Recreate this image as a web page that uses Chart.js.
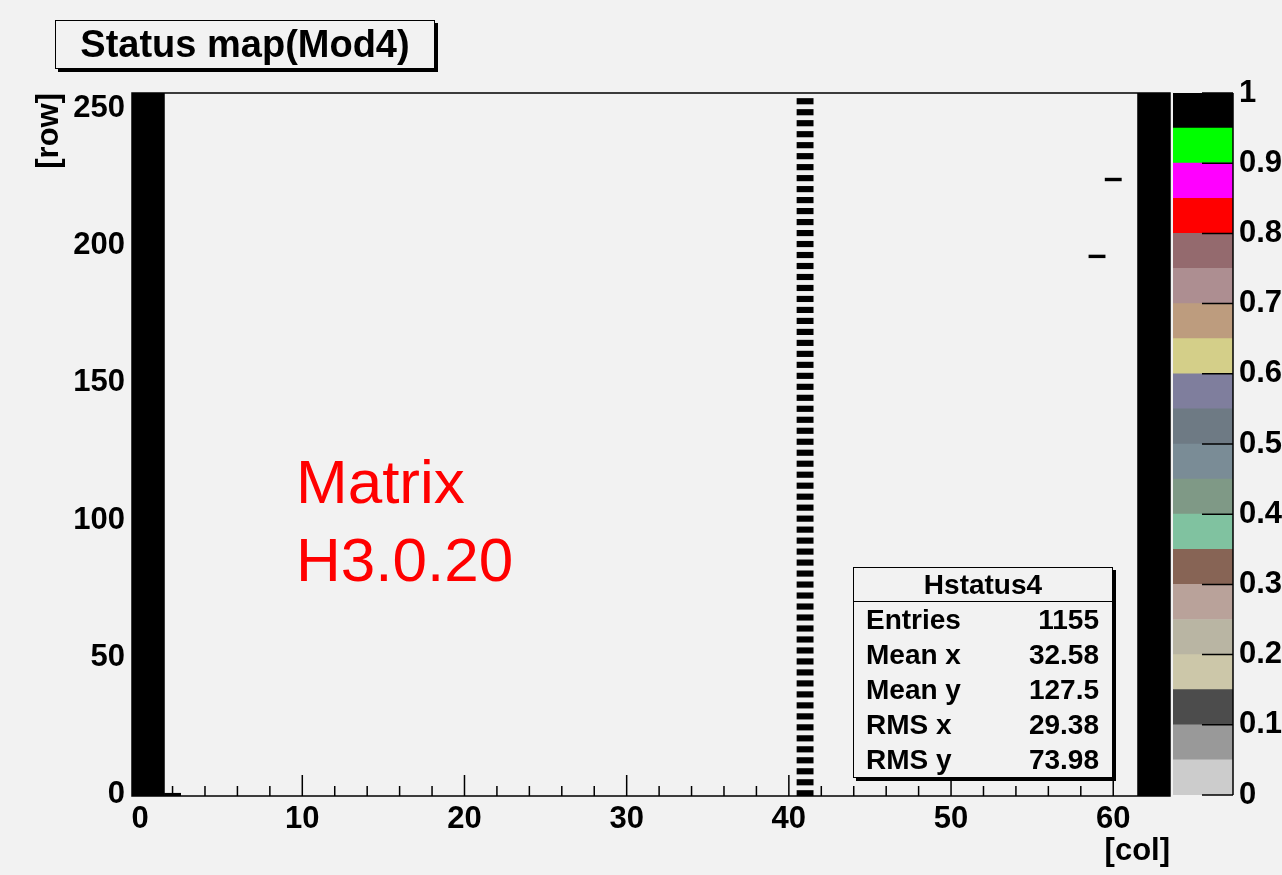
<!DOCTYPE html>
<html>
<head>
<meta charset="utf-8">
<title>Status map(Mod4)</title>
<script src="https://cdn.jsdelivr.net/npm/chart.js@4/dist/chart.umd.min.js"></script>
<style>
  html, body {
    margin: 0;
    padding: 0;
    background: #f2f2f2;
    width: 1282px;
    height: 875px;
    overflow: hidden;
    font-family: "Liberation Sans", Arial, sans-serif;
  }
  canvas { position: absolute; top: 0; }
  #map { left: 0; }
  #palette { left: 1150px; }
  .box {
    position: absolute;
    box-sizing: border-box;
    border: 1.5px solid #000;
    box-shadow: 3px 3px 0 #000;
    background: #f2f2f2;
    color: #000;
    font-weight: bold;
  }
  #title {
    left: 55px; top: 20px; width: 380px; height: 49px;
    font-size: 38px; line-height: 46px; text-align: center;
  }
  #stats {
    left: 853px; top: 567px; width: 260px; height: 211px;
    font-size: 28px;
  }
  .stats-head {
    height: 33px; line-height: 33px; text-align: center;
    border-bottom: 1.5px solid #000;
  }
  .stats-row {
    display: flex; justify-content: space-between;
    height: 35px; line-height: 35px; padding: 0 13px 0 12px;
  }
  #note {
    position: absolute; left: 296px; top: 443px;
    color: #ff0000; font-size: 62px; line-height: 78px;
  }
</style>
</head>
<body>
<canvas id="map" width="1282" height="875"></canvas>
<canvas id="palette" width="200" height="875"></canvas>
<div id="title" class="box">Status map(Mod4)</div>
<div id="stats" class="box">
  <div class="stats-head">Hstatus4</div>
  <div id="stats-body"></div>
</div>
<div id="note">Matrix<br>H3.0.20</div>

<script>
// pixel status cells (col, row), every filled cell has status 1
const fullColumns = [0, 1, 62, 63];
const rowCount = 256;
const dashedColumn = 41;
// first row of each 2-row run in the dashed column
const dashedRowStarts = [0, 4, 8, 12, 16, 20, 24, 28, 32, 36, 40, 44, 48, 52, 56, 60,
  64, 68, 72, 76, 80, 84, 88, 92, 96, 100, 104, 108, 112, 116, 120, 124,
  128, 132, 136, 140, 144, 148, 152, 156, 160, 164, 168, 172, 176, 180, 184, 188,
  192, 196, 200, 204, 208, 212, 216, 220, 224, 228, 232, 236, 240, 244, 248, 252];
const singleCells = [[2, 0], [59, 196], [60, 224]];
const cellStatus = 1;

// axes
const xTicks = [0, 10, 20, 30, 40, 50, 60];
const yTicks = [0, 50, 100, 150, 200, 250];
const paletteTicks = [0, 0.1, 0.2, 0.3, 0.4, 0.5, 0.6, 0.7, 0.8, 0.9, 1];

// colour palette, lowest level first
const paletteEdges = [0, 0.05, 0.1, 0.15, 0.2, 0.25, 0.3, 0.35, 0.4, 0.45, 0.5,
  0.55, 0.6, 0.65, 0.7, 0.75, 0.8, 0.85, 0.9, 0.95, 1];
const paletteColors = [
  "#cccccc", "#999999", "#4c4c4c", "#ccc7a9", "#b9b5a3",
  "#b9a29a", "#876455", "#80c2a0", "#7f9986", "#7a8c96",
  "#6e7a84", "#7f7e9d", "#d4cf89", "#bd9c7e", "#ad8e91",
  "#946a6e", "#ff0000", "#ff00ff", "#00ff00", "#000000"
];

// stats box
const statsLabels = ["Entries", "Mean x", "Mean y", "RMS x", "RMS y"];
const statsValues = ["1155", "32.58", "127.5", "29.38", "73.98"];

const fontFamily = '"Liberation Sans", Arial, sans-serif';
const axisFont = { family: fontFamily, size: 31, weight: "bold" };

function statusColor(v) {
  for (let i = paletteEdges.length - 2; i >= 0; i--) {
    if (v >= paletteEdges[i]) return paletteColors[i];
  }
  return paletteColors[0];
}

// build the floating bars for the map
const cells = [];
fullColumns.forEach((c) => cells.push({ x: c, y: [-0.5, rowCount - 0.5], v: cellStatus }));
dashedRowStarts.forEach((r) => cells.push({ x: dashedColumn, y: [r - 0.5, r + 1.5], v: cellStatus }));
singleCells.forEach(([c, r]) => cells.push({ x: c, y: [r - 0.5, r + 0.5], v: cellStatus }));

// frame and inward tick marks, ROOT style
const mapFrame = {
  id: "mapFrame",
  afterDatasetsDraw(chart) {
    const { ctx, chartArea: a, scales: { x, y } } = chart;
    ctx.save();
    ctx.strokeStyle = "#000";
    ctx.lineWidth = 1.5;
    ctx.strokeRect(a.left, a.top, a.right - a.left, a.bottom - a.top);
    ctx.beginPath();
    for (let v = 0; v <= 62; v += 2) {
      const px = x.getPixelForValue(v);
      const len = v % 10 === 0 ? 21 : 10;
      ctx.moveTo(px, a.bottom);
      ctx.lineTo(px, a.bottom - len);
    }
    yTicks.forEach((v) => {
      const py = y.getPixelForValue(v);
      ctx.moveTo(a.left, py);
      ctx.lineTo(a.left + 21, py);
    });
    ctx.stroke();
    ctx.restore();
  }
};

const paletteFrame = {
  id: "paletteFrame",
  afterDatasetsDraw(chart) {
    const { ctx, chartArea: a, scales: { y } } = chart;
    ctx.save();
    ctx.strokeStyle = "#000";
    ctx.lineWidth = 1.5;
    ctx.beginPath();
    ctx.moveTo(a.right, a.top);
    ctx.lineTo(a.right, a.bottom);
    paletteTicks.forEach((v) => {
      const py = y.getPixelForValue(v);
      ctx.moveTo(a.right, py);
      ctx.lineTo(a.right - 31, py);
    });
    ctx.stroke();
    ctx.restore();
  }
};

new Chart(document.getElementById("map"), {
  type: "bar",
  data: {
    datasets: [{
      data: cells,
      backgroundColor: (c) => statusColor(c.raw ? c.raw.v : 0),
      borderWidth: 0,
      barPercentage: 1,
      categoryPercentage: 1
    }]
  },
  options: {
    responsive: false,
    animation: false,
    devicePixelRatio: 1,
    layout: { padding: { top: 93, right: 112, left: 0, bottom: 0 } },
    plugins: { legend: { display: false }, tooltip: { enabled: false } },
    scales: {
      x: {
        type: "linear",
        offset: false,
        min: -0.5,
        max: 63.5,
        afterBuildTicks: (s) => { s.ticks = xTicks.map((v) => ({ value: v })); },
        afterFit: (s) => { s.height = 79; },
        grid: { display: false, drawTicks: false },
        border: { display: false },
        ticks: { font: axisFont, color: "#000", padding: 5, maxRotation: 0, autoSkip: false },
        title: {
          display: true, text: "[col]", align: "end", color: "#000",
          font: axisFont, padding: { top: 0, bottom: 5 }
        }
      },
      y: {
        type: "linear",
        min: -0.5,
        max: rowCount - 0.5,
        afterBuildTicks: (s) => { s.ticks = yTicks.map((v) => ({ value: v })); },
        afterFit: (s) => { s.width = 132; },
        grid: { display: false, drawTicks: false },
        border: { display: false },
        ticks: { font: axisFont, color: "#000", padding: 7 },
        title: {
          display: true, text: "[row]", align: "end", color: "#000",
          font: axisFont, padding: { top: 31, bottom: 0 }
        }
      }
    }
  },
  plugins: [mapFrame]
});

// colour scale on the right
new Chart(document.getElementById("palette"), {
  type: "bar",
  data: {
    labels: [""],
    datasets: paletteColors.map((col, i) => ({
      data: [[paletteEdges[i], paletteEdges[i + 1]]],
      backgroundColor: col,
      borderWidth: 0,
      barPercentage: 1,
      categoryPercentage: 1,
      grouped: false
    }))
  },
  options: {
    responsive: false,
    animation: false,
    devicePixelRatio: 1,
    layout: { padding: { top: 93, bottom: 80, left: 23, right: 0 } },
    plugins: { legend: { display: false }, tooltip: { enabled: false } },
    scales: {
      x: { display: false },
      y: {
        position: "right",
        min: 0,
        max: 1,
        afterBuildTicks: (s) => { s.ticks = paletteTicks.map((v) => ({ value: v })); },
        afterFit: (s) => { s.width = 117; },
        grid: { display: false, drawTicks: false },
        border: { display: false },
        ticks: { font: axisFont, color: "#000", padding: 6, callback: (v) => String(v) }
      }
    }
  },
  plugins: [paletteFrame]
});

// stats rows
const statsBody = document.getElementById("stats-body");
statsLabels.forEach((label, i) => {
  const row = document.createElement("div");
  row.className = "stats-row";
  row.innerHTML = `<span>${label}</span><span>${statsValues[i]}</span>`;
  statsBody.appendChild(row);
});
</script>
</body>
</html>
